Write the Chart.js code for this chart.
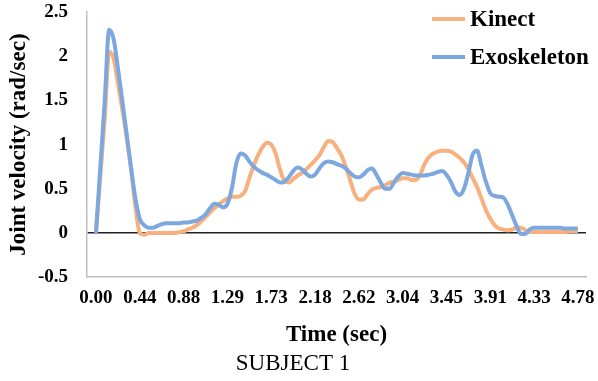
<!DOCTYPE html>
<html>
<head>
<meta charset="utf-8">
<script src="https://cdn.jsdelivr.net/npm/chart.js@4/dist/chart.umd.min.js"></script>
<style>
  html, body { margin: 0; padding: 0; background: #fff; }
  canvas { display: block; }
</style>
</head>
<body>
<canvas id="chart" width="598" height="381"></canvas>
<script>
// Time axis labels, one every ten samples
const timeLabels = ['0.00', '0.44', '0.88', '1.29', '1.73', '2.18', '2.62', '3.04', '3.45', '3.91', '4.33', '4.78'];
const samplesPerLabel = 10;

// Y axis tick values (rad/sec)
const yTickValues = [-0.5, 0, 0.5, 1, 1.5, 2, 2.5];

// Joint velocity from the Kinect sensor (rad/sec), 111 samples
const kinect = [
  0, 0.65, 1.3, 2.05, 1.98, 1.7, 1.4, 1.08, 0.72, 0.3, 0.0,
  -0.02, 0, 0, 0, 0, 0, 0, 0,
  0.01, 0.02, 0.04, 0.06, 0.09, 0.13, 0.18, 0.23, 0.28, 0.32, 0.36, 0.39, 0.41, 0.41, 0.42,
  0.47, 0.62, 0.76, 0.88, 0.97, 1.02, 1.0, 0.9, 0.72, 0.59, 0.57,
  0.61, 0.65, 0.68, 0.72, 0.77, 0.82, 0.88, 0.97, 1.04, 1.03, 0.96, 0.88, 0.75, 0.6, 0.45, 0.38,
  0.38, 0.44, 0.49, 0.51, 0.52, 0.54, 0.57, 0.58, 0.6, 0.62, 0.62, 0.6, 0.6,
  0.66, 0.78, 0.86, 0.9, 0.92, 0.93, 0.93, 0.92, 0.89, 0.85, 0.8, 0.72, 0.62, 0.52, 0.39, 0.26, 0.16,
  0.09, 0.05, 0.04, 0.03, 0.04, 0.06, 0.06, 0.03, 0.01,
  0.01, 0.01, 0.01, 0.01, 0.01, 0.01, 0.01, 0.01, 0.02, 0.02, 0.02
];

// Joint velocity from the exoskeleton encoders (rad/sec), 111 samples
const exoskeleton = [
  0, 0.75, 1.5, 2.3, 2.2, 1.87, 1.5, 1.12, 0.74, 0.39, 0.16,
  0.09, 0.06, 0.06, 0.08, 0.1, 0.11, 0.11, 0.11, 0.11, 0.12,
  0.12, 0.13, 0.14, 0.17, 0.21, 0.28, 0.33, 0.32, 0.29, 0.33,
  0.5, 0.78, 0.9, 0.88, 0.81, 0.75, 0.71, 0.68, 0.66, 0.63,
  0.6, 0.57, 0.58, 0.63, 0.7, 0.74, 0.72, 0.67, 0.64, 0.66,
  0.73, 0.79, 0.81, 0.8, 0.78, 0.76, 0.73, 0.68, 0.64, 0.63,
  0.66, 0.71, 0.73, 0.66, 0.57, 0.5, 0.5, 0.57, 0.64, 0.68,
  0.67, 0.66, 0.65, 0.65, 0.65, 0.66, 0.67, 0.69, 0.7, 0.66,
  0.58, 0.47, 0.43, 0.5, 0.68, 0.89, 0.93, 0.76, 0.58, 0.45,
  0.42, 0.41, 0.4, 0.32, 0.2, 0.08, -0.01, -0.01, 0.04, 0.06,
  0.06, 0.06, 0.06, 0.06, 0.06, 0.06, 0.05, 0.05, 0.05, 0.05
];

const SERIF = "'Liberation Serif', 'Times New Roman', serif";
const ORANGE = '#F7B07E';
const BLUE = '#7DA7DF';

const toPoints = arr => arr.map((v, i) => ({ x: i, y: v }));

// Legend drawn in the upper right corner of the plot
const cornerLegend = {
  id: 'cornerLegend',
  afterDraw(chart) {
    const ctx = chart.ctx;
    ctx.save();
    ctx.font = 'bold 23px ' + SERIF;
    ctx.textBaseline = 'middle';
    ctx.textAlign = 'left';
    chart.data.datasets.forEach((ds, i) => {
      const y = 19 + i * 38;
      ctx.strokeStyle = ds.borderColor;
      ctx.lineWidth = 4;
      ctx.lineCap = 'butt';
      ctx.beginPath();
      ctx.moveTo(432, y);
      ctx.lineTo(465, y);
      ctx.stroke();
      ctx.fillStyle = '#000';
      ctx.fillText(ds.label, 470, y + 1);
    });
    ctx.restore();
  }
};

new Chart(document.getElementById('chart'), {
  type: 'line',
  data: {
    datasets: [
      {
        label: 'Kinect',
        data: toPoints(kinect),
        borderColor: ORANGE,
        borderWidth: 4,
        pointRadius: 0,
        cubicInterpolationMode: 'monotone',
        fill: false,
        order: 1
      },
      {
        label: 'Exoskeleton',
        data: toPoints(exoskeleton),
        borderColor: BLUE,
        borderWidth: 4,
        pointRadius: 0,
        cubicInterpolationMode: 'monotone',
        fill: false,
        order: 0
      }
    ]
  },
  options: {
    responsive: false,
    animation: false,
    layout: { padding: { top: 12, right: 12, left: 0, bottom: 3 } },
    plugins: {
      legend: { display: false },
      tooltip: { enabled: false },
      title: {
        display: true,
        position: 'bottom',
        text: 'SUBJECT 1',
        color: '#000',
        font: { family: SERIF, size: 23, weight: 'normal', lineHeight: 1.2 },
        padding: { top: 1.4, bottom: 0 }
      }
    },
    scales: {
      x: {
        type: 'linear',
        min: -2.05,
        max: 111.85,
        grid: { display: false, drawTicks: false },
        border: { display: true, color: '#BFBFBF', width: 1.5 },
        afterBuildTicks(scale) {
          scale.ticks = timeLabels.map((_, k) => ({ value: k * samplesPerLabel }));
        },
        afterFit(scale) {
          scale.paddingLeft = 0;
          scale.paddingRight = 0;
        },
        ticks: {
          autoSkip: false,
          maxRotation: 0,
          padding: 11,
          color: '#000',
          font: { family: SERIF, size: 19, weight: 'bold', lineHeight: 1 },
          callback: v => timeLabels[Math.round(v / samplesPerLabel)]
        },
        title: {
          display: true,
          text: 'Time (sec)',
          color: '#000',
          font: { family: SERIF, size: 23, weight: 'bold', lineHeight: 1.2 },
          padding: { top: 3.2, bottom: 0 }
        }
      },
      y: {
        type: 'linear',
        min: -0.5,
        max: 2.5,
        grid: {
          drawTicks: false,
          lineWidth: 1.5,
          color: c => (c.tick && c.tick.value === 0 ? '#222' : 'rgba(0,0,0,0)')
        },
        border: { display: true, color: '#BFBFBF', width: 1.5 },
        afterBuildTicks(scale) {
          scale.ticks = yTickValues.map(v => ({ value: v }));
        },
        afterFit(scale) {
          scale.width = 87;
          scale.paddingTop = 0;
          scale.paddingBottom = 0;
        },
        ticks: {
          padding: 19,
          color: '#000',
          font: { family: SERIF, size: 19, weight: 'bold', lineHeight: 1 },
          callback: v => String(v)
        },
        title: {
          display: true,
          text: 'Joint velocity (rad/sec)',
          color: '#000',
          font: { family: SERIF, size: 23, weight: 'bold', lineHeight: 1.2 },
          padding: { top: 5, bottom: 0 }
        }
      }
    }
  },
  plugins: [cornerLegend]
});
</script>
</body>
</html>
